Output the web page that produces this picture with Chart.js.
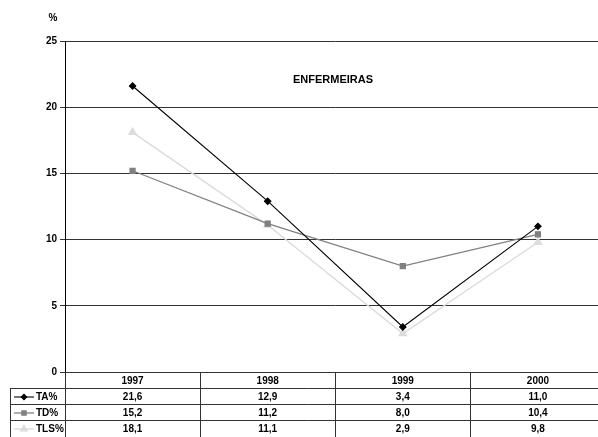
<!DOCTYPE html>
<html>
<head>
<meta charset="utf-8">
<script src="https://cdn.jsdelivr.net/npm/chart.js@4/dist/chart.umd.min.js"></script>
<style>
  html, body { margin: 0; padding: 0; background: #fff; overflow: hidden; }
  #wrap { width: 611px; height: 437px; }
  canvas { display: block; }
</style>
</head>
<body>
<div id="wrap"><canvas id="c" width="611" height="437" style="width:611px;height:437px"></canvas></div>
<script>
// Years and yearly rates (%) for nurses
const years = ['1997', '1998', '1999', '2000'];
const taValues = [21.6, 12.9, 3.4, 11.0];
const tdValues = [15.2, 11.2, 8.0, 10.4];
const tlsValues = [18.1, 11.1, 2.9, 9.8];
const seriesNames = ['TA%', 'TD%', 'TLS%'];
const yTicks = [0, 5, 10, 15, 20, 25];
const chartTitle = 'ENFERMEIRAS';
const unitLabel = '%';

const FONT = '"Liberation Sans Narrow", "Liberation Sans", Arial, sans-serif';
const fmt = v => v.toFixed(1).replace('.', ',');

// Title, unit label and the data table under the plot
const extras = {
  id: 'extras',
  afterDraw(chart) {
    const ctx = chart.ctx;
    const area = chart.chartArea;
    const xs = chart.scales.x;
    const step = xs.getPixelForValue(1) - xs.getPixelForValue(0);
    const edges = years.map((_, i) => xs.getPixelForValue(i) - step / 2);
    edges.push(xs.getPixelForValue(years.length - 1) + step / 2);

    ctx.save();
    ctx.fillStyle = '#000';
    ctx.textBaseline = 'middle';

    // title inside the plot
    ctx.font = 'bold 11px ' + FONT;
    ctx.textAlign = 'center';
    ctx.fillText(chartTitle, 333, area.top + 39);

    // unit above the value axis
    ctx.font = 'bold 10px ' + FONT;
    ctx.fillText(unitLabel, 53, 18);

    // table grid
    const top = area.bottom;
    const rowH = 16;
    const tableLeft = 10;
    const bottom = chart.height;
    ctx.strokeStyle = '#333';
    ctx.lineWidth = 1;
    ctx.beginPath();
    for (let r = 1; r <= 3; r++) {
      const y = Math.round(top + r * rowH) + 0.5;
      ctx.moveTo(tableLeft, y);
      ctx.lineTo(edges[edges.length - 1], y);
    }
    edges.forEach(x => {
      const px = Math.round(x) + 0.5;
      ctx.moveTo(px, top);
      ctx.lineTo(px, bottom);
    });
    ctx.moveTo(tableLeft + 0.5, top + rowH);
    ctx.lineTo(tableLeft + 0.5, bottom);
    ctx.stroke();

    // header row with the years
    ctx.font = 'bold 10px ' + FONT;
    ctx.textAlign = 'center';
    years.forEach((yr, i) => {
      ctx.fillText(yr, xs.getPixelForValue(i), top + rowH / 2 + 1);
    });

    // one row per series: legend key, name, values
    chart.data.datasets.forEach((ds, r) => {
      const yc = top + (r + 1) * rowH + rowH / 2 + 1;
      ctx.strokeStyle = ds.borderColor;
      ctx.lineWidth = ds.borderWidth;
      ctx.beginPath();
      ctx.moveTo(tableLeft + 4, yc);
      ctx.lineTo(tableLeft + 24, yc);
      ctx.stroke();
      ctx.fillStyle = ds.pointBackgroundColor;
      ctx.strokeStyle = ds.pointBorderColor;
      Chart.helpers.drawPoint(ctx, {
        pointStyle: ds.pointStyle,
        radius: ds.pointRadius - 0.5,
        borderWidth: 1,
        rotation: 0
      }, tableLeft + 14, yc);
      ctx.fillStyle = '#000';
      ctx.textAlign = 'left';
      ctx.fillText(ds.label, tableLeft + 26, yc);
      ctx.textAlign = 'center';
      ds.data.forEach((v, i) => {
        ctx.fillText(fmt(v), xs.getPixelForValue(i), yc);
      });
    });
    ctx.restore();
  }
};

const mk = (label, data, color, style, radius, width) => ({
  label,
  data,
  borderColor: color,
  backgroundColor: color,
  pointBackgroundColor: color,
  pointBorderColor: color,
  pointStyle: style,
  pointRadius: radius,
  pointHoverRadius: radius,
  borderWidth: width,
  tension: 0
});

new Chart(document.getElementById('c'), {
  type: 'line',
  data: {
    labels: years,
    datasets: [
      mk(seriesNames[0], taValues, '#000000', 'rectRot', 3.2, 1.1),
      mk(seriesNames[1], tdValues, '#808080', 'rect', 3.5, 1.3),
      mk(seriesNames[2], tlsValues, '#dcdcdc', 'triangle', 4, 1.5)
    ]
  },
  options: {
    responsive: false,
    animation: false,
    layout: { padding: { top: 41, right: 0, left: 0, bottom: 0 } },
    plugins: {
      legend: { display: false },
      title: { display: false },
      tooltip: { enabled: false }
    },
    scales: {
      x: {
        type: 'category',
        offset: true,
        grid: { display: false },
        border: { display: false },
        ticks: { display: false },
        afterFit(scale) { scale.height = 65; }
      },
      y: {
        min: yTicks[0],
        max: yTicks[yTicks.length - 1],
        afterBuildTicks(scale) { scale.ticks = yTicks.map(v => ({ value: v })); },
        ticks: {
          color: '#000',
          font: { family: FONT, size: 10, weight: 'bold' },
          padding: 3
        },
        grid: {
          color: '#333',
          lineWidth: 1,
          drawTicks: true,
          tickLength: 5
        },
        border: { display: true, color: '#000', width: 1 },
        afterFit(scale) { scale.width = 65; }
      }
    }
  },
  plugins: [extras]
});
</script>
</body>
</html>
